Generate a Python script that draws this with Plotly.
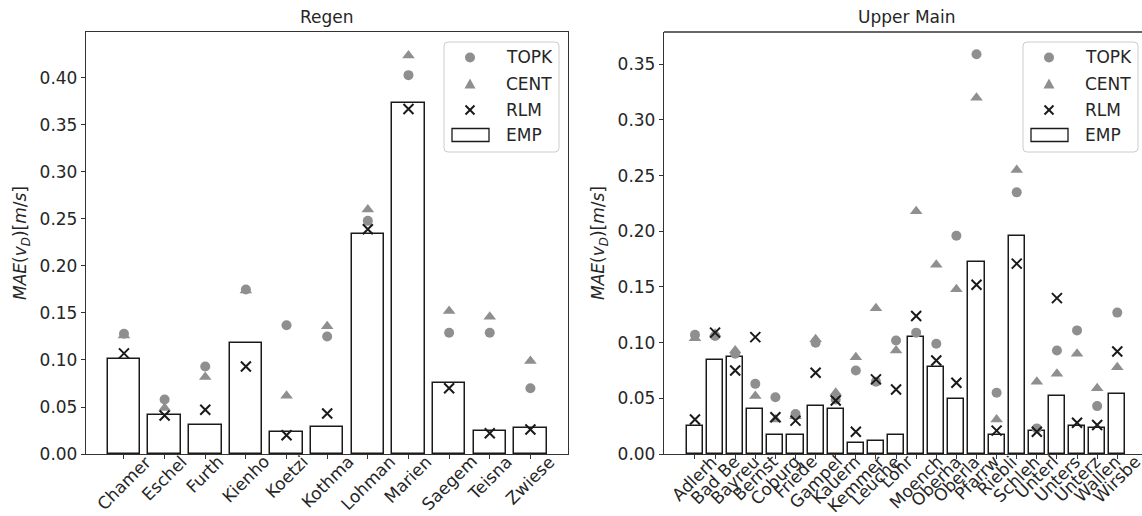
import plotly.graph_objects as go

# ---------------- data ----------------
regen_names = ["Chamer", "Eschel", "Furth", "Kienho", "Koetzi", "Kothma",
               "Lohman", "Marien", "Saegem", "Teisna", "Zwiese"]
regen_emp = [0.101, 0.041, 0.031, 0.118, 0.023, 0.029, 0.234, 0.373, 0.076, 0.025, 0.028]
regen_topk = [0.128, 0.058, 0.093, 0.175, 0.137, 0.125, 0.248, 0.403, 0.129, 0.129, 0.070]
regen_cent = [0.126, 0.049, 0.082, 0.174, 0.062, 0.136, 0.260, 0.424, 0.152, 0.146, 0.099]
regen_rlm = [0.107, 0.041, 0.047, 0.093, 0.020, 0.043, 0.239, 0.367, 0.070, 0.022, 0.026]

main_names = ["Adlerh", "Bad Be", "Bayreu", "Bernst", "Coburg", "Friede", "Gampel",
              "Kauern", "Kemmer", "Leuche", "Lohr", "Moench", "Oberha", "Oberla",
              "Pfarrw", "Riebli", "Schleh", "Unterl", "Unters", "Unterz", "Wallen", "Wirsbe"]
main_emp = [0.025, 0.084, 0.087, 0.040, 0.017, 0.017, 0.043, 0.040, 0.010, 0.012, 0.017,
            0.105, 0.078, 0.049, 0.172, 0.017, 0.196, 0.021, 0.052, 0.025, 0.023, 0.054]
main_topk = [0.107, 0.106, 0.090, 0.063, 0.051, 0.036, 0.100, 0.049, 0.075, 0.065, 0.102,
             0.109, 0.099, 0.196, 0.359, 0.055, 0.235, 0.023, 0.093, 0.111, 0.043, 0.127]
main_cent = [0.104, 0.108, 0.093, 0.052, 0.031, 0.034, 0.103, 0.055, 0.087, 0.131, 0.093,
             0.218, 0.170, 0.148, 0.320, 0.031, 0.255, 0.065, 0.072, 0.090, 0.059, 0.078]
main_rlm = [0.031, 0.109, 0.075, 0.105, 0.033, 0.030, 0.073, 0.048, 0.020, 0.067, 0.058,
            0.124, 0.084, 0.064, 0.152, 0.021, 0.171, 0.020, 0.140, 0.028, 0.026, 0.092]

series_names = ["TOPK", "CENT", "RLM", "EMP"]
y_ticks = [0.00, 0.05, 0.10, 0.15, 0.20, 0.25, 0.30, 0.35, 0.40]

# ---------------- style ----------------
W, H = 1142, 516
FONT = "DejaVu Sans"
TXT = "#262626"
SPINE = "#333333"
GRAY = "#8f8f8f"
FS = 17


def px(x):
    return x / W


def py(y):
    return 1 - y / H


fig = go.Figure()

panels = [
    dict(names=regen_names, emp=regen_emp, topk=regen_topk, cent=regen_cent, rlm=regen_rlm,
         xa="x", ya="y", x0=86, x1=568, xr=[-0.934, 10.925], yr=[0, 0.4489], title="Regen",
         tcx=327, lx0=444, lx1=559),
    dict(names=main_names, emp=main_emp, topk=main_topk, cent=main_cent, rlm=main_rlm,
         xa="x2", ya="y2", x0=664, x1=1142, xr=[-1.54, 22.23], yr=[0, 0.379], title="Upper Main",
         tcx=906, lx0=1023, lx1=1138),
]

Y0, Y1 = 32, 454

annotations = []
shapes = []

for p in panels:
    xs = list(range(len(p["names"])))
    fig.add_trace(go.Bar(x=xs, y=p["emp"], width=0.8, marker=dict(color="white", line=dict(color="#1a1a1a", width=1.5)),
                         xaxis=p["xa"], yaxis=p["ya"], showlegend=False, name="EMP"))
    fig.add_trace(go.Scatter(x=xs, y=p["cent"], mode="markers", xaxis=p["xa"], yaxis=p["ya"], showlegend=False,
                             name="CENT", marker=dict(symbol="triangle-up", size=11, color=GRAY, line=dict(width=0))))
    fig.add_trace(go.Scatter(x=xs, y=p["topk"], mode="markers", xaxis=p["xa"], yaxis=p["ya"], showlegend=False,
                             name="TOPK", marker=dict(symbol="circle", size=10, color=GRAY, line=dict(width=0))))
    fig.add_trace(go.Scatter(x=xs, y=p["rlm"], mode="markers", xaxis=p["xa"], yaxis=p["ya"], showlegend=False,
                             name="RLM", marker=dict(symbol="x-thin", size=10, color="#1a1a1a",
                                                     line=dict(width=2, color="#1a1a1a"))))
    # rotated category labels
    for i, n in enumerate(p["names"]):
        annotations.append(dict(x=i, y=py(449), xref=p["xa"], yref="paper", text=n, showarrow=False,
                                textangle=-45, xanchor="center", yanchor="top",
                                font=dict(family=FONT, size=FS, color=TXT)))
    # panel title
    annotations.append(dict(x=px(p["tcx"]), y=py(17), xref="paper", yref="paper", text=p["title"],
                            showarrow=False, xanchor="center", yanchor="middle",
                            font=dict(family=FONT, size=FS, color=TXT)))
    # legend (drawn manually)
    lx0, lx1 = p["lx0"], p["lx1"]
    ly0, ly1 = 42, 152
    r = 4
    path = (f"M {px(lx0 + r)},{py(ly0)} L {px(lx1 - r)},{py(ly0)} "
            f"Q {px(lx1)},{py(ly0)} {px(lx1)},{py(ly0 + r)} L {px(lx1)},{py(ly1 - r)} "
            f"Q {px(lx1)},{py(ly1)} {px(lx1 - r)},{py(ly1)} L {px(lx0 + r)},{py(ly1)} "
            f"Q {px(lx0)},{py(ly1)} {px(lx0)},{py(ly1 - r)} L {px(lx0)},{py(ly0 + r)} "
            f"Q {px(lx0)},{py(ly0)} {px(lx0 + r)},{py(ly0)} Z")
    shapes.append(dict(type="path", path=path, xref="paper", yref="paper",
                       fillcolor="rgba(255,255,255,0.8)", line=dict(color="#cccccc", width=1)))
    mx = lx0 + 26
    rows = [57.5, 84, 110, 135]
    # circle
    shapes.append(dict(type="circle", xref="paper", yref="paper", x0=px(mx - 5), x1=px(mx + 5),
                       y0=py(rows[0] - 5), y1=py(rows[0] + 5), fillcolor=GRAY, line=dict(width=0)))
    # triangle
    ty = rows[1]
    shapes.append(dict(type="path", xref="paper", yref="paper",
                       path=f"M {px(mx - 5.5)},{py(ty + 4.5)} L {px(mx + 5.5)},{py(ty + 4.5)} L {px(mx)},{py(ty - 5.5)} Z",
                       fillcolor=GRAY, line=dict(width=0)))
    # x
    xy = rows[2]
    for a, b in [((-4.5, -4.5), (4.5, 4.5)), ((-4.5, 4.5), (4.5, -4.5))]:
        shapes.append(dict(type="line", xref="paper", yref="paper", x0=px(mx + a[0]), y0=py(xy + a[1]),
                           x1=px(mx + b[0]), y1=py(xy + b[1]), line=dict(color="#1a1a1a", width=2)))
    # rectangle for EMP
    shapes.append(dict(type="rect", xref="paper", yref="paper", x0=px(lx0 + 8), x1=px(lx0 + 45),
                       y0=py(rows[3] - 6.5), y1=py(rows[3] + 6.5), fillcolor="white",
                       line=dict(color="#1a1a1a", width=1.3)))
    for k, t in enumerate(series_names):
        annotations.append(dict(x=px(lx0 + 60), y=py(rows[k]), xref="paper", yref="paper", text=t,
                                showarrow=False, xanchor="left", yanchor="middle",
                                font=dict(family=FONT, size=FS, color=TXT)))

# y axis titles
ytitle = "<i>MAE</i>(<i>v</i><sub><i>D</i></sub>)[<i>m</i>/<i>s</i>]"
for xpos in [22, 600]:
    annotations.append(dict(x=px(xpos), y=py(243), xref="paper", yref="paper", text=ytitle, showarrow=False,
                            textangle=-90, xanchor="center", yanchor="middle",
                            font=dict(family=FONT, size=FS, color=TXT)))

# top spine of right panel (no right spine visible, it is cut off)
shapes.append(dict(type="line", xref="paper", yref="paper", x0=px(664), x1=1, y0=py(Y0), y1=py(Y0),
                   line=dict(color=SPINE, width=1.3), layer="above"))

common_x = dict(showgrid=False, zeroline=False, showline=True, linecolor=SPINE, linewidth=1.3,
                ticks="outside", ticklen=4, tickwidth=1.3, tickcolor=SPINE, showticklabels=False,
                fixedrange=True)
common_y = dict(showgrid=False, zeroline=False, showline=True, linecolor=SPINE, linewidth=1.3,
                ticks="outside", ticklen=4, tickwidth=1.3, tickcolor=SPINE,
                tickvals=y_ticks, ticktext=[f"{v:.2f}" for v in y_ticks],
                tickfont=dict(family=FONT, size=FS, color=TXT), automargin=False)

fig.update_layout(
    width=W, height=H,
    margin=dict(l=0, r=0, t=0, b=0),
    paper_bgcolor="white", plot_bgcolor="rgba(0,0,0,0)",
    showlegend=False,
    font=dict(family=FONT, size=FS, color=TXT),
    xaxis=dict(common_x, domain=[px(86), px(568)], range=panels[0]["xr"], anchor="y",
               tickvals=list(range(len(regen_names))), mirror=True),
    yaxis=dict(common_y, domain=[py(Y1), py(Y0)], range=panels[0]["yr"], anchor="x", mirror=True),
    xaxis2=dict(common_x, domain=[px(664), 1.0], range=panels[1]["xr"], anchor="y2",
                tickvals=list(range(len(main_names))), mirror=False),
    yaxis2=dict(common_y, domain=[py(Y1), py(Y0)], range=panels[1]["yr"], anchor="x2", mirror=False,
                tickvals=y_ticks[:8], ticktext=[f"{v:.2f}" for v in y_ticks[:8]]),
    annotations=annotations,
    shapes=shapes,
    bargap=0,
)

fig.write_html("out.html", config={"displayModeBar": False},
               post_script="document.body.style.margin='0';document.body.style.overflow='hidden';")
